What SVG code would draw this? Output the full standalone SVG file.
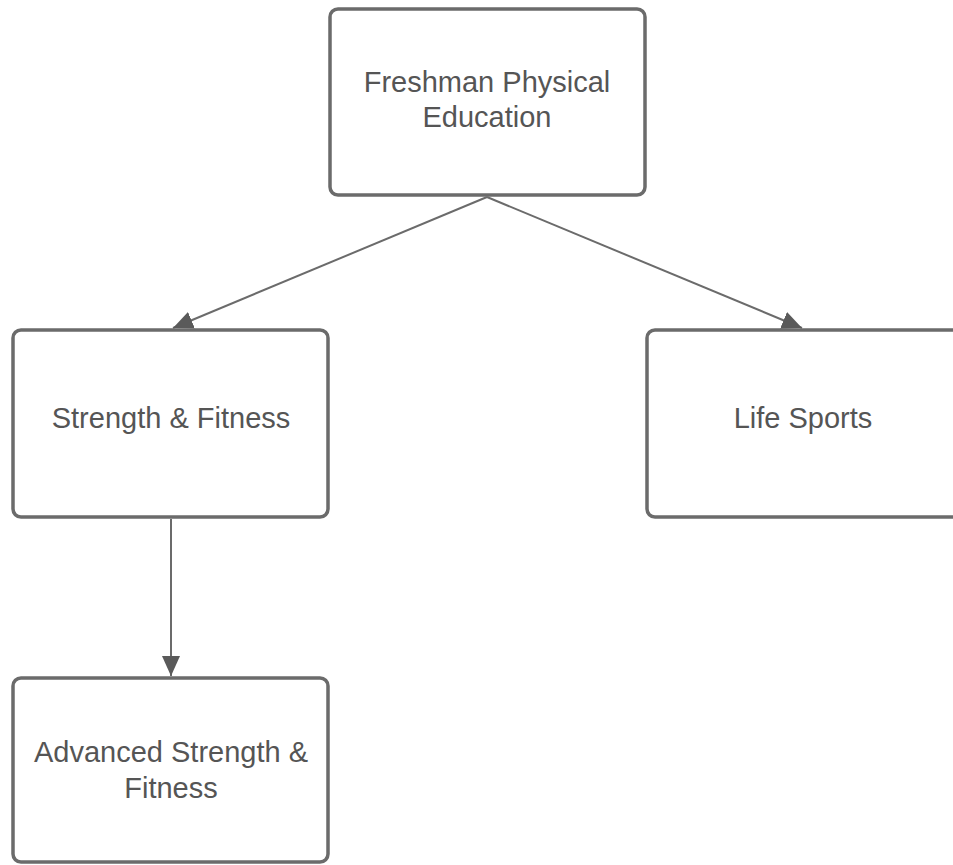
<svg xmlns="http://www.w3.org/2000/svg" width="953" height="865" viewBox="0 0 953 865">
  <style>
    .box { fill: #ffffff; stroke: #6b6b6b; stroke-width: 3.5; }
    .label { font-family: "Liberation Sans", Arial, sans-serif; font-size: 29px; fill: #555555; text-anchor: middle; }
    .edge { stroke: #6b6b6b; stroke-width: 2; fill: none; }
  </style>
  <defs>
    <marker id="arrowhead" viewBox="0 0 20 18" refX="20" refY="9" markerWidth="20" markerHeight="18" markerUnits="userSpaceOnUse" orient="auto">
      <path d="M0,0 L20,9 L0,18 z" fill="#5a5a5a"/>
    </marker>
  </defs>
  <rect width="953" height="865" fill="#ffffff"/>

  <g id="connectors">
    <line class="edge" x1="487" y1="197" x2="173" y2="328" marker-end="url(#arrowhead)"/>
    <line class="edge" x1="487" y1="197" x2="802" y2="328" marker-end="url(#arrowhead)"/>
    <line class="edge" x1="171" y1="519" x2="171" y2="676" marker-end="url(#arrowhead)"/>
  </g>

  <g id="node-freshman">
    <rect class="box" x="330" y="9" width="315" height="186" rx="8"/>
    <text class="label" x="487" y="92">Freshman Physical</text>
    <text class="label" x="487" y="127">Education</text>
  </g>

  <g id="node-strength">
    <rect class="box" x="13" y="330" width="315" height="187" rx="8"/>
    <text class="label" x="171" y="428">Strength &amp; Fitness</text>
  </g>

  <g id="node-life-sports">
    <rect class="box" x="647" y="330" width="315" height="187" rx="8"/>
    <text class="label" x="803" y="428">Life Sports</text>
  </g>

  <g id="node-advanced">
    <rect class="box" x="13" y="678" width="315" height="184" rx="8"/>
    <text class="label" x="171" y="762">Advanced Strength &amp;</text>
    <text class="label" x="171" y="798">Fitness</text>
  </g>
</svg>
